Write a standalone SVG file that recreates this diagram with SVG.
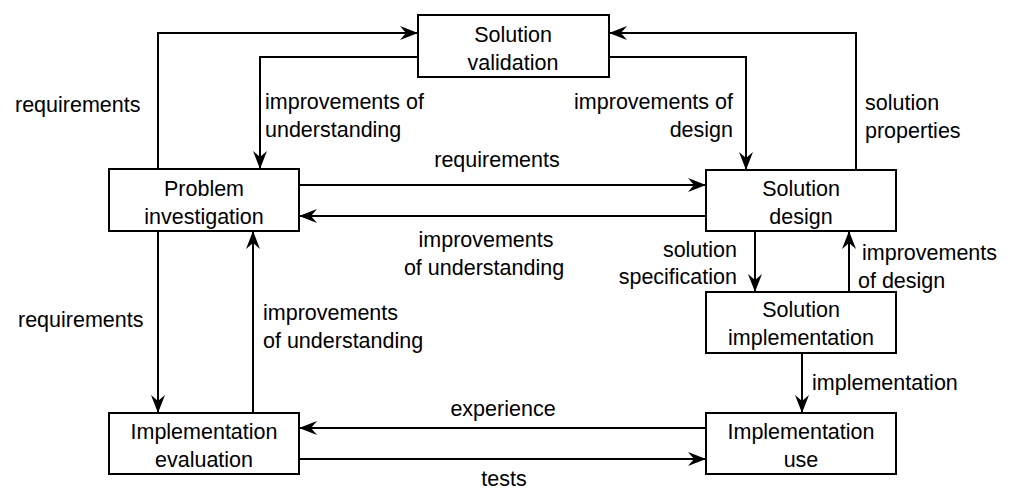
<svg xmlns="http://www.w3.org/2000/svg" width="1013" height="490" viewBox="0 0 1013 490">
<style>
.box{fill:#fff;stroke:#000;stroke-width:2}
.t{font-family:"Liberation Sans",Arial,sans-serif;font-size:21.5px;fill:#000}
.c{text-anchor:middle}
.e{text-anchor:end}
.ln{fill:none;stroke:#000;stroke-width:2;marker-end:url(#ah)}
</style>
<defs>
<marker id="ah" markerUnits="userSpaceOnUse" markerWidth="20" markerHeight="16" viewBox="-19 -8 20 16" refX="0" refY="0" orient="auto">
<path d="M0,0 L-18,-7 L-12,0 L-18,7 Z" fill="#000"/>
</marker>
</defs>
<rect width="1013" height="490" fill="#fff"/>
<g id="connectors">
<path class="ln" d="M158,169 V33 H418"/>
<path class="ln" d="M418,57 H260 V169"/>
<path class="ln" d="M609,57 H746 V170"/>
<path class="ln" d="M856,170 V33 H609"/>
<path class="ln" d="M299,185 H706"/>
<path class="ln" d="M706,216 H299"/>
<path class="ln" d="M755,231 V292"/>
<path class="ln" d="M849,292 V231"/>
<path class="ln" d="M802,353 V413"/>
<path class="ln" d="M158,231 V413"/>
<path class="ln" d="M253,413 V231"/>
<path class="ln" d="M706,428 H299"/>
<path class="ln" d="M299,459 H706"/>
<text class="t" x="15" y="112">requirements</text>
<text class="t" x="265" y="109">improvements of</text>
<text class="t" x="265" y="137">understanding</text>
<text class="t e" x="733" y="109">improvements of</text>
<text class="t e" x="733" y="137">design</text>
<text class="t" x="865" y="110">solution</text>
<text class="t" x="865" y="138">properties</text>
<text class="t c" x="497" y="167">requirements</text>
<text class="t c" x="486" y="247">improvements</text>
<text class="t c" x="484" y="275">of understanding</text>
<text class="t e" x="737" y="257">solution</text>
<text class="t e" x="737" y="284">specification</text>
<text class="t" x="862" y="260">improvements</text>
<text class="t" x="858" y="288">of design</text>
<text class="t" x="18" y="327">requirements</text>
<text class="t" x="263" y="320">improvements</text>
<text class="t" x="263" y="348">of understanding</text>
<text class="t" x="812" y="390">implementation</text>
<text class="t c" x="503" y="416">experience</text>
<text class="t c" x="504" y="486">tests</text>
</g>
<g id="solution-validation">
<rect class="box" x="418" y="15" width="191" height="62"/>
<text class="t c" x="513" y="42">Solution</text>
<text class="t c" x="513" y="70">validation</text>
</g>
<g id="problem-investigation">
<rect class="box" x="109" y="169" width="190" height="62"/>
<text class="t c" x="204" y="196">Problem</text>
<text class="t c" x="204" y="224">investigation</text>
</g>
<g id="solution-design">
<rect class="box" x="706" y="170" width="190" height="61"/>
<text class="t c" x="801" y="196">Solution</text>
<text class="t c" x="801" y="224">design</text>
</g>
<g id="solution-implementation">
<rect class="box" x="706" y="292" width="190" height="61"/>
<text class="t c" x="801" y="317">Solution</text>
<text class="t c" x="801" y="345">implementation</text>
</g>
<g id="implementation-evaluation">
<rect class="box" x="109" y="413" width="190" height="61"/>
<text class="t c" x="204" y="439">Implementation</text>
<text class="t c" x="204" y="467">evaluation</text>
</g>
<g id="implementation-use">
<rect class="box" x="706" y="413" width="190" height="61"/>
<text class="t c" x="801" y="439">Implementation</text>
<text class="t c" x="801" y="467">use</text>
</g>
</svg>
